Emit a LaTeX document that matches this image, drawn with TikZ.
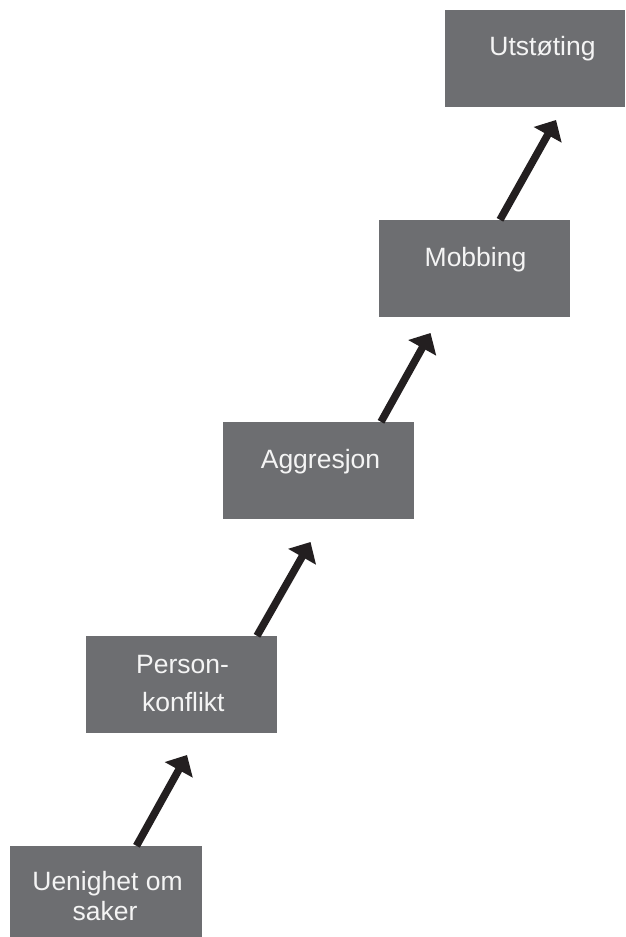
\documentclass[tikz,border=0pt]{standalone}
\usepackage{fontspec}
\setmainfont{Liberation Sans}
\usetikzlibrary{arrows.meta}
\definecolor{boxgray}{HTML}{6D6E71}
\definecolor{arrowblack}{HTML}{231F20}
\definecolor{textwhite}{HTML}{F4F4F4}
\begin{document}
\begin{tikzpicture}[x=1pt,y=-1pt,
  stage/.style={fill=boxgray, draw=none, inner sep=0pt, minimum width=191pt, minimum height=97pt},
  txt/.style={text=textwhite, font=\fontsize{26.5}{30}\selectfont, inner sep=0pt, anchor=base},
  upar/.style={draw=arrowblack, line width=7.5pt, -{Triangle[length=17pt,width=31pt]}}]
\useasboundingbox[fill=white] (0,0) rectangle (625,937);
% boxes
\node[stage, minimum width=180pt] (U) at (535,58.5) {};
\node[stage] (M) at (474.5,268.5) {};
\node[stage] (A) at (318.5,470.5) {};
\node[stage] (P) at (181.5,684.5) {};
\node[stage, minimum width=192pt, minimum height=91pt] (S) at (106,891.5) {};
% texts
\node[txt] (Ut) at (542.5,55) {Utstøting};
\node[txt] (Mt) at (475.5,266) {Mobbing};
\node[txt] (At) at (320.5,468) {Aggresjon};
\node[txt] (Pt1) at (182.5,673) {Person-};
\node[txt] (Pt2) at (183.3,711.7) {konflikt};
\node[txt] (St1) at (107.5,890) {Uenighet om};
\node[txt] (St2) at (105,920) {saker};
% arrow ends
\coordinate (a1s) at (136.5,846);
\coordinate (a1e) at (187,755);
\coordinate (a2s) at (257,636);
\coordinate (a2e) at (310.5,542);
\coordinate (a3s) at (381,422);
\coordinate (a3e) at (430.5,333);
\coordinate (a4s) at (500,220);
\coordinate (a4e) at (556,120);
\draw[upar] (S.north -| a1s) -- (a1e);
\draw[upar] (P.north -| a2s) -- (a2e);
\draw[upar] (A.north -| a3s) -- (a3e);
\draw[upar] (M.north -| a4s) -- (a4e);
\end{tikzpicture}
\end{document}
